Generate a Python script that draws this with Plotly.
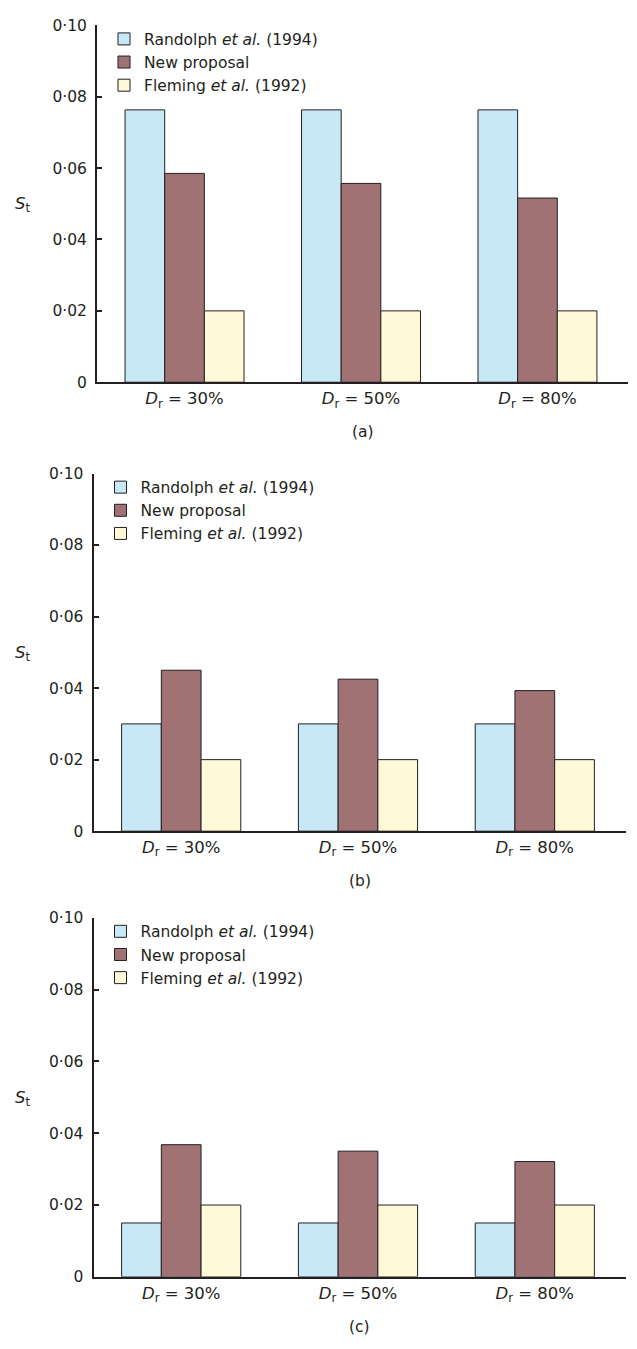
import plotly.graph_objects as go

# Categories (relative density) and series values for the three cases
categories = ["<i>D</i><sub>r</sub> = 30%", "<i>D</i><sub>r</sub> = 50%", "<i>D</i><sub>r</sub> = 80%"]
series_names = ["Randolph <i>et al.</i> (1994)", "New proposal", "Fleming <i>et al.</i> (1992)"]

randolph_a = [0.0763, 0.0763, 0.0763]
new_a = [0.0585, 0.0557, 0.0516]
fleming_a = [0.02, 0.02, 0.02]

randolph_b = [0.030, 0.030, 0.030]
new_b = [0.0450, 0.0425, 0.0393]
fleming_b = [0.02, 0.02, 0.02]

randolph_c = [0.015, 0.015, 0.015]
new_c = [0.0368, 0.0350, 0.0321]
fleming_c = [0.02, 0.02, 0.02]

y_tickvals = [0, 0.02, 0.04, 0.06, 0.08, 0.10]
y_ticktext = ["0", "0·02", "0·04", "0·06", "0·08", "0·10"]
y_title = "<i>S</i><sub>t</sub>"
panel_labels = ["(a)", "(b)", "(c)"]

colors = ["#c7e8f7", "#a07274", "#fff9d8"]
ink = "#231f20"
font = "DejaVu Sans, Verdana, sans-serif"

W, H = 637, 1349

# Pixel geometry of each panel: (x_left, x_right, y_top, y_zero)
panels = [
    (97, 628, 16.5, 378.3),
    (93.5, 625.5, 470.8, 833.3),
    (93.5, 625.5, 921.0, 1285.0),
]
data = [
    (randolph_a, new_a, fleming_a),
    (randolph_b, new_b, fleming_b),
    (randolph_c, new_c, fleming_c),
]

fig = go.Figure()
layout = dict(
    width=W, height=H,
    margin=dict(l=0, r=0, t=0, b=0),
    paper_bgcolor="white", plot_bgcolor="white",
    barmode="group", bargap=0.326, bargroupgap=0,
    font=dict(family=font, size=15.5, color=ink),
    annotations=[],
)

for i, ((xl, xr, yt, y0), vals) in enumerate(zip(panels, data)):
    n = "" if i == 0 else str(i + 1)
    leg = "legend" + n
    for name, v, c in zip(series_names, vals, colors):
        fig.add_trace(go.Bar(
            x=categories, y=v, name=name,
            marker=dict(color=c, line=dict(color=ink, width=1)),
            xaxis="x" + n, yaxis="y" + n, legend=leg, showlegend=True,
        ))
    layout["xaxis" + n] = dict(
        domain=[xl / W, xr / W], anchor="y" + n, type="category",
        range=[-0.496, 2.513], showline=True, linecolor=ink, linewidth=2,
        ticks="", showgrid=False, zeroline=False,
        tickfont=dict(size=16.5, color=ink), fixedrange=True,
    )
    layout["yaxis" + n] = dict(
        domain=[1 - y0 / H, 1 - yt / H], anchor="x" + n, range=[0, 0.10],
        showline=True, linecolor=ink, linewidth=2,
        ticks="inside", ticklen=5, tickwidth=1.5, tickcolor=ink,
        tickvals=y_tickvals, ticktext=y_ticktext, ticklabelstandoff=5,
        tickfont=dict(size=15.5, color=ink),
        showgrid=False, zeroline=False, fixedrange=True,
    )
    layout[leg] = dict(
        x=(xl + 7) / W, y=1 - (yt - 3) / H, xanchor="left", yanchor="top",
        bgcolor="rgba(0,0,0,0)", font=dict(size=15.5, color=ink), borderwidth=0,
        tracegroupgap=0,
    )
    # horizontal S_t label left of the tick labels
    layout["annotations"].append(dict(
        text=y_title, x=22.5 / W, y=1 - ((yt + y0) / 2 + 1) / H,
        xref="paper", yref="paper", xanchor="center", yanchor="middle",
        showarrow=False, font=dict(size=16.5, color=ink),
    ))
    layout["annotations"].append(dict(
        text=panel_labels[i], x=(xl + xr) / 2 / W, y=1 - (y0 + 50.5) / H,
        xref="paper", yref="paper", xanchor="center", yanchor="middle",
        showarrow=False, font=dict(size=15.5, color=ink),
    ))

fig.update_layout(**layout)
fig.write_html("out.html")
